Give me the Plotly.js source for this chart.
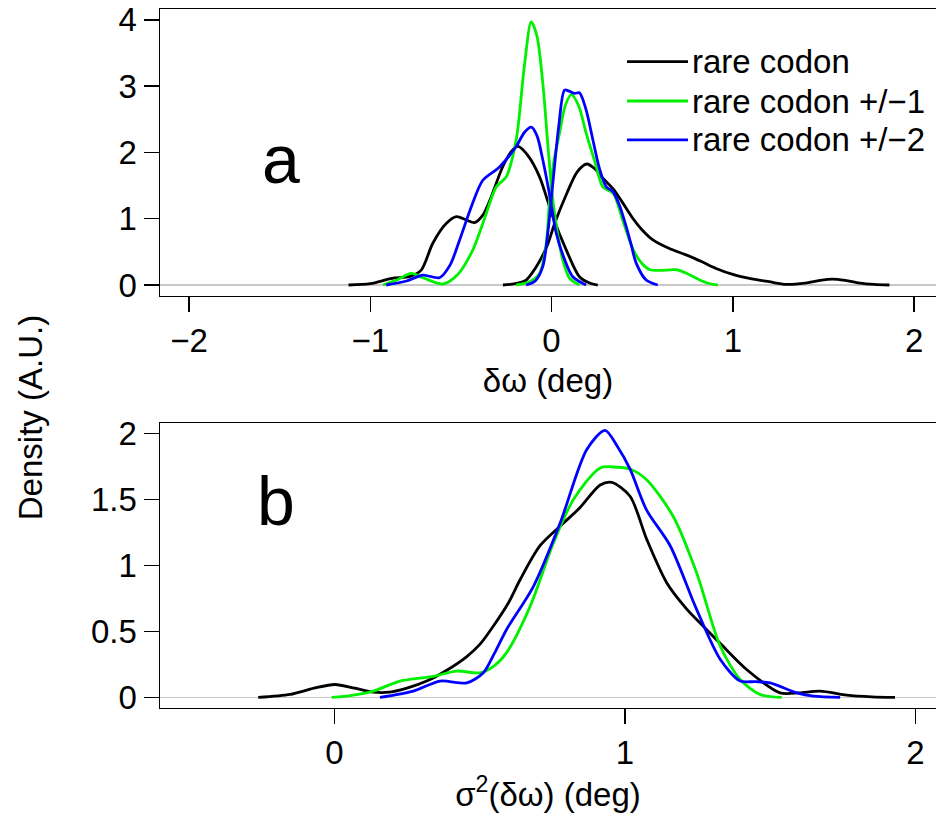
<!DOCTYPE html>
<html>
<head>
<meta charset="utf-8">
<script src="https://cdn.plot.ly/plotly-3.0.1.min.js"></script>
<style>html,body{margin:0;padding:0;background:#fff;}#chart{width:936px;height:820px;}</style>
</head>
<body>
<div id="chart"></div>
<script>
// ---------- data: panel a (δω) ----------
const seriesNames = ["rare codon", "rare codon +/\u22121", "rare codon +/\u22122"];
const seriesColors = ["#000000", "#00f000", "#0000ff"];

const aBlackLeftX = [-1.12,-1.0,-0.88,-0.78,-0.72,-0.655,-0.58,-0.525,-0.47,-0.425,-0.38,-0.34,-0.27,-0.22,-0.185,-0.13,-0.066,0.007,0.081,0.154,0.21,0.255];
const aBlackLeftY = [0,0.02,0.1,0.13,0.22,0.63,0.93,1.03,0.98,0.94,1.05,1.28,1.78,2.02,2.09,1.95,1.63,1.03,0.53,0.125,0.03,0];
const aBlackRightX = [-0.268,-0.2,-0.14,-0.09,-0.026,0.02,0.084,0.14,0.194,0.24,0.283,0.34,0.39,0.45,0.5,0.559,0.65,0.746,0.83,0.908,1.0,1.092,1.2,1.294,1.4,1.48,1.55,1.62,1.7,1.78,1.864];
const aBlackRightY = [0,0.02,0.075,0.25,0.58,0.95,1.38,1.7,1.825,1.75,1.61,1.45,1.25,1.0,0.83,0.68,0.55,0.45,0.35,0.25,0.16,0.1,0.05,0.01,0.03,0.07,0.09,0.07,0.03,0.01,0];

const aGreenLeftX = [-0.93,-0.85,-0.774,-0.7,-0.6,-0.52,-0.434,-0.37,-0.305,-0.25,-0.195,-0.15,-0.112,-0.08,-0.048,-0.02,0.007,0.035,0.062,0.1,0.154];
const aGreenLeftY = [0,0.08,0.175,0.1,0.015,0.15,0.53,1.0,1.48,1.63,2.19,3.3,3.97,3.75,3.04,2.1,1.28,0.75,0.377,0.1,0];
const aGreenRightX = [-0.195,-0.12,-0.066,-0.03,-0.011,0.015,0.044,0.075,0.109,0.15,0.191,0.24,0.283,0.341,0.39,0.451,0.5,0.543,0.6,0.69,0.75,0.8,0.86,0.917];
const aGreenRightY = [0,0.05,0.175,0.6,1.28,1.9,2.29,2.7,2.87,2.7,2.29,1.85,1.48,1.38,1.0,0.53,0.32,0.23,0.22,0.23,0.17,0.1,0.03,0];

const aBlueLeftX = [-0.912,-0.8,-0.71,-0.618,-0.56,-0.507,-0.44,-0.379,-0.287,-0.195,-0.15,-0.112,-0.08,-0.048,-0.01,0.026,0.07,0.117,0.191];
const aBlueLeftY = [0,0.06,0.15,0.11,0.3,0.68,1.2,1.58,1.78,2.09,2.3,2.38,2.25,1.885,1.35,0.78,0.4,0.125,0];
const aBlueRightX = [-0.14,-0.09,-0.048,-0.02,0.007,0.04,0.072,0.1,0.127,0.154,0.19,0.228,0.265,0.302,0.338,0.375,0.412,0.44,0.467,0.522,0.586];
const aBlueRightY = [0,0.06,0.28,0.8,1.53,2.4,2.94,2.92,2.89,2.9,2.65,2.19,1.75,1.48,1.41,1.2,0.88,0.6,0.33,0.075,0];

// ---------- data: panel b (σ²(δω)) ----------
const bBlackX = [-0.262,-0.152,-0.07,0.002,0.07,0.134,0.19,0.25,0.318,0.39,0.456,0.5,0.547,0.6,0.639,0.708,0.788,0.846,0.915,0.955,1.018,1.075,1.144,1.213,1.27,1.328,1.42,1.534,1.6,1.672,1.764,1.85,1.93];
const bBlackY = [0,0.023,0.07,0.098,0.07,0.04,0.04,0.07,0.124,0.21,0.31,0.4,0.54,0.72,0.89,1.15,1.32,1.44,1.61,1.63,1.525,1.2,0.87,0.67,0.54,0.41,0.21,0.035,0.035,0.048,0.018,0.005,0];
const bGreenX = [-0.009,0.06,0.134,0.226,0.341,0.421,0.502,0.55,0.593,0.674,0.754,0.823,0.915,0.972,1.02,1.075,1.167,1.247,1.328,1.397,1.465,1.54];
const bGreenY = [0,0.015,0.048,0.124,0.16,0.2,0.187,0.24,0.34,0.69,1.17,1.5,1.74,1.745,1.73,1.65,1.37,0.945,0.39,0.136,0.023,0];
const bBlueX = [0.157,0.272,0.364,0.456,0.513,0.55,0.593,0.685,0.777,0.869,0.932,0.975,1.018,1.075,1.156,1.247,1.328,1.397,1.45,1.5,1.592,1.65,1.741];
const bBlueY = [0,0.048,0.124,0.11,0.187,0.33,0.515,0.84,1.32,1.88,2.025,1.9,1.73,1.42,1.15,0.667,0.29,0.124,0.12,0.11,0.035,0.01,0];

// ticks
const aXTicks = [-2,-1,0,1,2];
const aYTicks = [0,1,2,3,4];
const bXTicks = [0,1,2];
const bYTicks = [0,0.5,1,1.5,2];
const bYTickText = ["0","0.5","1","1.5","2"];

const FONT = "Liberation Sans, Arial, Helvetica, sans-serif";
const FS = 33;
const LW = 2.8;

function tr(x, y, ci, xa, ya) {
  return {x: x, y: y, type: "scatter", mode: "lines", xaxis: xa, yaxis: ya,
    line: {color: seriesColors[ci], width: LW, shape: "spline", smoothing: 0.8},
    name: seriesNames[ci], showlegend: false, hoverinfo: "skip"};
}

const data = [
  tr(aBlackLeftX, aBlackLeftY, 0, "x", "y"),
  tr(aBlackRightX, aBlackRightY, 0, "x", "y"),
  tr(aGreenLeftX, aGreenLeftY, 1, "x", "y"),
  tr(aGreenRightX, aGreenRightY, 1, "x", "y"),
  tr(aBlueLeftX, aBlueLeftY, 2, "x", "y"),
  tr(aBlueRightX, aBlueRightY, 2, "x", "y"),
  tr(bBlackX, bBlackY, 0, "x2", "y2"),
  tr(bGreenX, bGreenY, 1, "x2", "y2"),
  tr(bBlueX, bBlueY, 2, "x2", "y2")
];

const tickFont = {family: FONT, size: FS, color: "#000"};
function xax(range, ticks, title, domainAnchor, standoff) {
  return {domain: [0, 1], anchor: domainAnchor, range: range, tickvals: ticks,
    showgrid: false, zeroline: false, showline: true, mirror: true,
    linecolor: "#000", linewidth: 1.5, ticks: "outside", ticklen: 15, tickwidth: 1.5,
    tickcolor: "#000", tickfont: tickFont, fixedrange: true,
    title: {text: title, standoff: standoff, font: {family: FONT, size: FS, color: "#000"}}};
}
function yax(domain, range, ticks, ticktext, anchor) {
  return {domain: domain, anchor: anchor, range: range, tickvals: ticks, ticktext: ticktext,
    showgrid: false, zeroline: true, zerolinecolor: "#c8c8c8", zerolinewidth: 1.5,
    showline: true, mirror: false, linecolor: "#000", linewidth: 1.5,
    ticks: "outside", ticklen: 15, tickwidth: 1.5, tickcolor: "#000",
    tickfont: tickFont, fixedrange: true};
}

// legend geometry (paper coords)
const legY = [0.9248, 0.8768, 0.8293];
const shapes = [];
const annotations = [];
for (let i = 0; i < 3; i++) {
  shapes.push({type: "line", xref: "paper", yref: "paper", x0: 0.6018, x1: 0.6804, y0: legY[i], y1: legY[i],
    line: {color: seriesColors[i], width: LW}});
  annotations.push({xref: "paper", yref: "paper", x: 0.683, y: legY[i], xanchor: "left", yanchor: "middle",
    text: seriesNames[i], showarrow: false, font: {family: FONT, size: FS, color: "#000"}});
}
annotations.push({xref: "paper", yref: "paper", x: 0.156, y: 0.806, xanchor: "center", yanchor: "middle",
  text: "a", showarrow: false, font: {family: FONT, size: 68, color: "#000"}});
annotations.push({xref: "paper", yref: "paper", x: 0.150, y: 0.389, xanchor: "center", yanchor: "middle",
  text: "b", showarrow: false, font: {family: FONT, size: 68, color: "#000"}});
annotations.push({xref: "paper", yref: "paper", x: -0.1675, y: 0.49, xanchor: "center", yanchor: "middle",
  text: "Density (A.U.)", textangle: -90, showarrow: false, font: {family: FONT, size: FS, color: "#000"}});

const layout = {
  width: 936, height: 820,
  margin: {l: 160, r: 0, t: 0, b: 0},
  paper_bgcolor: "#fff", plot_bgcolor: "#fff",
  showlegend: false,
  font: {family: FONT, color: "#000"},
  xaxis: xax([-2.16, 2.121], aXTicks, "\u03b4\u03c9 (deg)", "y", 11),
  yaxis: yax([0.6395, 0.9888], [-0.16, 4.16], aYTicks, aYTicks.map(String), "x"),
  xaxis2: xax([-0.6, 2.071], bXTicks, "\u03c3<sup>2</sup>(\u03b4\u03c9) (deg)", "y2", 6),
  yaxis2: yax([0.1366, 0.4841], [-0.08, 2.08], bYTicks, bYTickText, "x2"),
  shapes: shapes,
  annotations: annotations
};

Plotly.newPlot("chart", data, layout, {displayModeBar: false, staticPlot: true});
</script>
</body>
</html>
